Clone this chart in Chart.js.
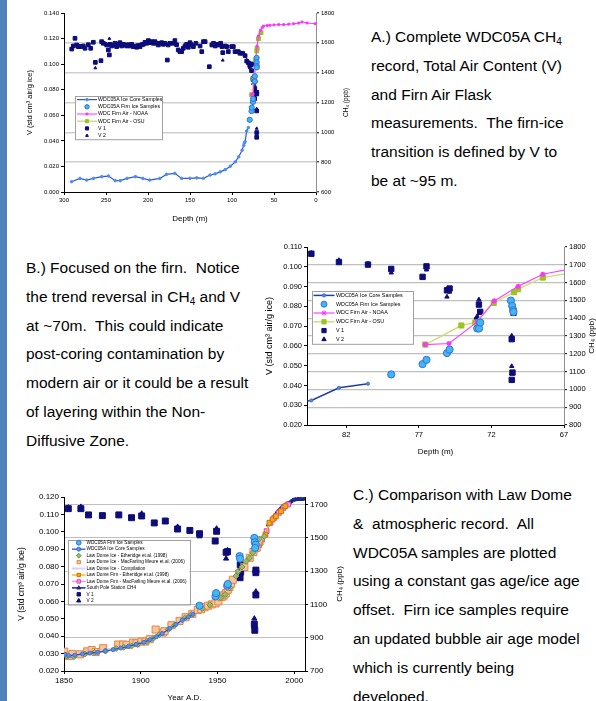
<!DOCTYPE html>
<html>
<head>
<meta charset="utf-8">
<script src="https://cdn.jsdelivr.net/npm/chart.js@4.4.0/dist/chart.umd.min.js"></script>
<style>
body { margin: 0; background: #fff; width: 596px; height: 701px; overflow: hidden; position: relative; font-family: Arial, "Liberation Sans", sans-serif; }
.bar { position: absolute; left: 0; top: 0; width: 7px; height: 701px; background: #4f81bd; }
.box { position: absolute; }
.txt { position: absolute; font-size: 15.5px; line-height: 28.8px; color: #000; white-space: nowrap; }
.txt sub { font-size: 10px; vertical-align: -3px; line-height: 0; }
</style>
</head>
<body>
<div class="bar"></div>
<div class="box" style="left:0;top:0;width:355px;height:232px"><canvas id="chartA"></canvas></div>
<div class="box" style="left:260px;top:240px;width:336px;height:230px"><canvas id="chartB"></canvas></div>
<div class="box" style="left:0;top:480px;width:345px;height:221px"><canvas id="chartC"></canvas></div>

<div class="txt" style="left:371px;top:23px">A.) Complete WDC05A CH<sub>4</sub><br>record, Total Air Content (V)<br>and Firn Air Flask<br>measurements.&nbsp; The firn-ice<br>transition is defined by V to<br>be at ~95 m.</div>
<div class="txt" style="left:26px;top:254px">B.) Focused on the firn.&nbsp; Notice<br>the trend reversal in CH<sub>4</sub> and V<br>at ~70m.&nbsp; This could indicate<br>post-coring contamination by<br>modern air or it could be a result<br>of layering within the Non-<br>Diffusive Zone.</div>
<div class="txt" style="left:353px;top:481px">C.) Comparison with Law Dome<br>&amp;&nbsp; atmospheric record.&nbsp; All<br>WDC05A samples are plotted<br>using a constant gas age/ice age<br>offset.&nbsp; Firn ice samples require<br>an updated bubble air age model<br>which is currently being<br>developed.</div>

<script>
// ---- depth based series (charts A and B), [depth m, value] ----
const iceCoreCH4 = [[291,669],[281,691],[273,680],[265,691],[255,703],[247,707],[239,676],[233,676],[225,691],[215,703],[206,691],[198,680],[186,691],[178,718],[168,725],[160,691],[150,692],[142,695],[134,692],[126,714],[120,722],[114,735],[108,750],[102,773],[96,802],[92,836],[88,880],[86,912],[85.3,928],[84.4,938],[82.5,1009],[80.5,1032]];
const firnIceCH4 = [[78.9,1084],[76.74,1142],[76.47,1166],[75.06,1204],[74.88,1224],[72.98,1342],[72.85,1342],[72.77,1376],[70.66,1499],[70.57,1469],[70.5,1445],[70.48,1435]];
const noaaCH4 = [[76.56,1252],[74.92,1258],[72.98,1379],[71.8,1497],[70.16,1579],[68.46,1647],[66,1685],[64,1702],[62.5,1712],[58,1716],[54.8,1718],[50,1720],[44.4,1722],[38.5,1722],[32.5,1725],[26.6,1728],[20.6,1732],[16.7,1740],[10.7,1733],[1,1728]];
const osuCH4 = [[76.55,1252],[74.07,1359],[73.11,1376],[71.84,1486],[70.43,1546],[70.16,1563],[68.46,1628],[65.5,1668]];
const v1Depth = [[290.8,0.1118],[288.9,0.1142],[286.9,0.1202],[284.9,0.1150],[282.9,0.1137],[280.1,0.1137],[277,0.1142],[275,0.1124],[271,0.1152],[268.2,0.1124],[265.1,0.1171],[262.7,0.1014],[256,0.1027],[255.2,0.1176],[253.2,0.1163],[249.2,0.1150],[247.2,0.1111],[246,0.1072],[245.2,0.1155],[243.3,0.1142],[241.3,0.1150],[239.3,0.1163],[237.3,0.1137],[235.4,0.1155],[233.4,0.1168],[231.4,0.1142],[229.4,0.1155],[227.4,0.1150],[225.4,0.1142],[223.4,0.1152],[221.4,0.1142],[219.5,0.1155],[217.5,0.1137],[215.5,0.1142],[213.5,0.1132],[211.5,0.1146],[209.5,0.1137],[207.5,0.1152],[205.6,0.1155],[203.6,0.1171],[201.6,0.1163],[199.6,0.1184],[197.6,0.1168],[195.6,0.1176],[193.7,0.1163],[191.7,0.1176],[189.7,0.1163],[187.7,0.1150],[185.7,0.1163],[183.7,0.1168],[181.7,0.1155],[179.8,0.1163],[177,0.1032],[176,0.1150],[174,0.1163],[170,0.1163],[168,0.1184],[166,0.1152],[164,0.1111],[162,0.1098],[160,0.1098],[158,0.1124],[156,0.1142],[154,0.1155],[152,0.1132],[150,0.1168],[148.5,0.1152],[146,0.1137],[143,0.1163],[138,0.1142],[136,0.1098],[134,0.1176],[132,0.1176],[127,0.0980],[124,0.1150],[122,0.1163],[120,0.1142],[118,0.1155],[116,0.1150],[113.5,0.1163],[112,0.1137],[111,0.1090],[108.3,0.1142],[106.4,0.1137],[104.4,0.1098],[100.4,0.1137],[98.4,0.1137],[96.4,0.1098],[92.5,0.1098],[90.5,0.1085],[87.3,0.1085],[84.4,0.1066],[82.5,0.1024],[80.5,0.1011],[78.9,0.0989],[76.74,0.0949],[76.47,0.1002],[75.06,0.0881],[74.88,0.0890],[72.98,0.0730],[72.86,0.0809],[72.77,0.0772],[70.6,0.0634],[70.55,0.0465],[70.6,0.0428],[70.5,0.0780],[70.48,0.0767]];
const v2Depth = [[290.8,0.1125],[280,0.1140],[262.7,0.0970],[250,0.1160],[246,0.1200],[220,0.1148],[200,0.1170],[180,0.1158],[150,0.1160],[120,0.1148],[111,0.1030],[100,0.1135],[84.4,0.1070],[82.5,0.1033],[80.5,0.1015],[78.9,0.0970],[76.47,0.0985],[75.06,0.0848],[74.88,0.0873],[72.86,0.0834],[72.98,0.0750],[70.6,0.0651],[70.6,0.0497],[70.6,0.0460]];

// ---- year based series (chart C), [year A.D., value] ----
const yrFirnCH4 = [[1938.3,1092],[1948.7,1148],[1949.1,1168],[1956.3,1212],[1956.7,1222],[1964.4,1390],[1964.7,1375],[1974,1499],[1974.3,1473],[1975,1459],[1974.5,1439]];
const yrCoreCH4 = [[1850.5,800],[1853,792],[1857,795],[1862,802],[1867,808],[1872,812],[1877,820],[1882,828],[1887,838],[1892,848],[1897,860],[1902,872],[1906,888],[1910,905],[1914,925],[1919,955],[1923,980],[1927,1005],[1931,1025],[1934,1040]];
const ldIceEtheridge = [[1852,788],[1856.5,786],[1863.6,802],[1870,812],[1877,820],[1884,835],[1889,843],[1894,850],[1898,860],[1904,878],[1908,895],[1912,918],[1918,950],[1922,975],[1928.6,1017],[1933,1040],[1940,1075],[1945,1098],[1952,1140],[1955,1160],[1958,1200],[1962,1270],[1963.2,1298],[1966,1325],[1968.6,1358],[1970.8,1379],[1973,1410],[1975,1440],[1977.3,1493],[1980.5,1509]];
const ldIceMacFarling = [[1850.2,816],[1853.2,790],[1855.6,802],[1860.4,800],[1865.1,818],[1868,826],[1870.6,814],[1875.5,837],[1885.3,859],[1888.5,859],[1890.7,857],[1895,871],[1897.2,867],[1900.4,877],[1903,877],[1905.8,891],[1909.7,949],[1914.5,931],[1915.5,939],[1920,975],[1925.3,1001],[1929.2,1023],[1933.6,1043],[1937.2,1067],[1939.4,1071],[1941.6,1084],[1943.8,1092],[1946.3,1100],[1948.7,1106],[1950.6,1118],[1952.4,1144],[1953.5,1148],[1954.5,1158],[1955.6,1168],[1956.7,1188],[1957.8,1204],[1958.8,1224],[1960,1248],[1967.5,1325],[1971,1380],[1973.4,1415],[1975.5,1440]];
const ldIceCompilation = [[1850,800],[1870,815],[1890,850],[1910,910],[1930,1030],[1950,1120],[1960,1240],[1970,1370],[1980,1505]];
const ldFirnEtheridge = [[1978,1470],[1981.2,1519],[1983.8,1590],[1985.9,1610],[1988.1,1630],[1991.4,1660],[1994.2,1690]];
const ldFirnMacFarling = [[1975,1430],[1977,1455],[1979,1490],[1982,1540],[1984.5,1590],[1987,1620],[1990,1650],[1993,1680],[1996,1700]];
const spoCH4 = [[1983,1578],[1984,1592],[1985,1606],[1986,1620],[1987,1632],[1988,1644],[1989,1656],[1990,1666],[1991,1676],[1992,1686],[1993,1690],[1994,1697],[1995,1703],[1996,1707],[1997,1711],[1998,1719],[1999,1726],[2000,1728],[2001,1730],[2002,1731],[2003,1733],[2004,1732],[2005,1731],[2006,1733],[2007,1736]];
const yrV1 = [[1852.8,0.1133],[1861,0.1133],[1866,0.1097],[1875,0.1093],[1885.7,0.1097],[1894,0.1081],[1900.6,0.1091],[1908.8,0.1051],[1916,0.1062],[1924,0.1016],[1932,0.1008],[1938.3,0.0989],[1948.5,0.0947],[1949.4,0.1003],[1955.6,0.0882],[1956.5,0.0886],[1964.3,0.0759],[1964.7,0.0736],[1964.8,0.0811],[1965.1,0.0769],[1974,0.0468],[1974.3,0.0434],[1975,0.0780],[1975,0.0637],[1975,0.0765]];
const yrV2 = [[1852.8,0.1139],[1861,0.1143],[1900.6,0.1104],[1924,0.1028],[1938.3,0.0974],[1949.4,0.1018],[1955.6,0.0846],[1956.5,0.0894],[1964.7,0.0826],[1974,0.0501],[1975,0.0656],[1974,0.0453]];

// ---- tick labels ----
const ticksBx = [67, 72, 77, 82];
const ticksCx = [1850, 1900, 1950, 2000];
const ticksCy2 = [700, 900, 1100, 1300, 1500, 1700];

Chart.defaults.font.family = 'Arial, "Liberation Sans", sans-serif';
Chart.defaults.color = '#000';

// legend box drawn inside the plot, like the spreadsheet one,
// plus the right axis title which reads bottom-to-top in the original
const boxLegend = {
    id: 'boxLegend',
    afterDraw(chart, args, o) {
        const ctx = chart.ctx;
        const sets = chart.data.datasets;
        const h = o.row * sets.length;
        ctx.save();
        ctx.fillStyle = '#fff';
        ctx.fillRect(o.x, o.y, o.w, h);
        ctx.strokeStyle = '#a0a0a0';
        ctx.lineWidth = 1;
        ctx.strokeRect(Math.round(o.x) + 0.5, Math.round(o.y) + 0.5, o.w, h);
        ctx.font = o.size + 'px Arial, "Liberation Sans", sans-serif';
        ctx.textBaseline = 'middle';
        sets.forEach((ds, i) => {
            const cy = o.y + o.row * (i + 0.5);
            const x0 = o.x + o.lx, x1 = x0 + o.line;
            if (ds.showLine) {
                ctx.strokeStyle = ds.borderColor;
                ctx.lineWidth = ds.borderWidth;
                ctx.beginPath();
                ctx.moveTo(x0, cy);
                ctx.lineTo(x1, cy);
                ctx.stroke();
            }
            if (ds.pointRadius > 0) {
                ctx.fillStyle = ds.pointBackgroundColor;
                ctx.strokeStyle = ds.pointBorderColor;
                ctx.lineWidth = 1;
                Chart.helpers.drawPoint(ctx, {
                    pointStyle: ds.pointStyle, rotation: 0,
                    radius: Math.min(ds.pointRadius, o.maxR), borderWidth: 1
                }, (x0 + x1) / 2, cy);
            }
            ctx.fillStyle = '#000';
            ctx.fillText(ds.label, o.x + o.tx, cy);
        });
        // right axis title
        const area = chart.chartArea;
        ctx.translate(o.rtX, (area.top + area.bottom) / 2);
        ctx.rotate(-Math.PI / 2);
        ctx.textAlign = 'center';
        ctx.font = o.rtSize + 'px Arial, "Liberation Sans", sans-serif';
        ctx.fillText('CH₄ (ppb)', 0, 0);
        ctx.restore();
    }
};

function ser(label, data, o) {
    return Object.assign({
        label: label,
        data: data.map(p => ({ x: p[0], y: p[1] })),
        showLine: false, yAxisID: 'y2', borderWidth: 1,
        pointRadius: 2, pointBorderWidth: 1, pointHoverRadius: 0
    }, o);
}

function axis(o) {
    return {
        type: 'linear', position: o.pos, min: o.min, max: o.max, reverse: !!o.reverse,
        afterFit: s => { if (o.pos === 'bottom') s.height = o.size; else s.width = o.size; },
        afterBuildTicks: o.ticks ? s => { s.ticks = o.ticks.map(v => ({ value: v })); } : undefined,
        ticks: { stepSize: o.step, font: { size: o.font }, padding: 2, color: '#000',
                 autoSkip: false, maxRotation: 0, callback: o.fmt || (v => v) },
        grid: {
            drawOnChartArea: !!o.grid,
            color: c => (c.tick && (c.tick.value <= o.min || c.tick.value >= o.max)) ? 'rgba(0,0,0,0)' : (o.gridColor || '#c0c0c0'),
            lineWidth: o.gridWidth || 1, tickLength: 3, tickColor: '#000', tickWidth: 1
        },
        border: { display: true, color: o.borderColor || '#000', width: 1 },
        title: { display: !!o.title, text: o.title, font: { size: o.titleFont }, color: '#000', padding: o.titlePad }
    };
}

function makeChart(id, datasets, scales, legend, padTop) {
    new Chart(document.getElementById(id), {
        type: 'scatter',
        data: { datasets: datasets },
        options: {
            responsive: true, maintainAspectRatio: false, animation: false,
            layout: { padding: { top: padTop, left: 0, right: 0, bottom: 0 } },
            scales: scales,
            plugins: { legend: { display: false }, tooltip: { enabled: false }, boxLegend: legend }
        },
        plugins: [boxLegend]
    });
}

const vFmt = v => v.toFixed(3);
const navy = '#0c0c7a';

// ---- A: complete record ----
makeChart('chartA', [
    ser('WDC05A Ice Core Samples', iceCoreCH4, { showLine: true, borderColor: '#2f55d4', borderWidth: 1.2, pointRadius: 1.3, pointBackgroundColor: '#4d8df0', pointBorderColor: '#4d8df0' }),
    ser('WDC05A Firn Ice Samples', firnIceCH4, { pointRadius: 2.6, pointBackgroundColor: '#3fb6ee', pointBorderColor: '#3a6fe0' }),
    ser('WDC Firn Air - NOAA', noaaCH4, { showLine: true, borderColor: '#ff33ff', pointStyle: 'rect', pointRadius: 1.3, pointBackgroundColor: '#ff33ff', pointBorderColor: '#ff33ff' }),
    ser('WDC Firn Air - OSU', osuCH4, { showLine: true, borderColor: '#d0df8a', borderWidth: 1.5, pointStyle: 'rect', pointRadius: 2.8, pointBackgroundColor: '#99c21f', pointBorderColor: '#99c21f' }),
    ser('V 1', v1Depth, { yAxisID: 'y', pointStyle: 'rect', pointRadius: 2.6, pointBackgroundColor: navy, pointBorderColor: navy }),
    ser('V 2', v2Depth, { yAxisID: 'y', pointStyle: 'triangle', pointRadius: 1.6, pointBackgroundColor: navy, pointBorderColor: navy })
], {
    x: axis({ pos: 'bottom', min: 0, max: 300, step: 50, reverse: true, size: 40, font: 6, title: 'Depth (m)', titleFont: 8, titlePad: { top: 0, bottom: 8 } }),
    y: axis({ pos: 'left', min: 0, max: 0.14, step: 0.02, size: 64, font: 6, fmt: vFmt, title: 'V (std cm³ air/g ice)', titleFont: 7.5, titlePad: { top: 25.5, bottom: 0 } }),
    y2: axis({ pos: 'right', min: 600, max: 1800, step: 200, size: 39, font: 6, grid: true, gridWidth: 1.6, gridColor: '#cfcfcf', borderColor: '#909090' })
}, { x: 75, y: 96, w: 87, row: 7.2, size: 5.2, lx: 2, line: 20, tx: 23, maxR: 2.2, rtX: 346, rtSize: 6.5 }, 13);

// ---- B: firn detail ----
makeChart('chartB', [
    ser('WDC05A Ice Core Samples', iceCoreCH4, { showLine: true, borderColor: '#283c9c', borderWidth: 1.5, pointRadius: 1.6, pointBackgroundColor: '#4d8df0', pointBorderColor: '#3d6fd8' }),
    ser('WDC05A Firn Ice Samples', firnIceCH4, { pointRadius: 3.6, pointBackgroundColor: '#3fb6ee', pointBorderColor: '#3a6fe0' }),
    ser('WDC Firn Air - NOAA', noaaCH4, { showLine: true, borderColor: '#ff44ff', borderWidth: 1.2, pointStyle: 'star', pointRadius: 2.6, pointBorderWidth: 1.4, pointBackgroundColor: '#ff33ff', pointBorderColor: '#ff33ff' }),
    ser('WDC Firn Air - OSU', osuCH4, { showLine: true, borderColor: '#cfe07a', borderWidth: 1.5, pointStyle: 'rect', pointRadius: 3.6, pointBackgroundColor: '#9bc41c', pointBorderColor: '#9bc41c' }),
    ser('V 1', v1Depth, { yAxisID: 'y', pointStyle: 'rect', pointRadius: 3.8, pointBackgroundColor: navy, pointBorderColor: navy }),
    ser('V 2', v2Depth, { yAxisID: 'y', pointStyle: 'triangle', pointRadius: 2.5, pointBackgroundColor: navy, pointBorderColor: navy })
], {
    x: axis({ pos: 'bottom', min: 67, max: 84.7, reverse: true, ticks: ticksBx, size: 45, font: 7.5, title: 'Depth (m)', titleFont: 8, titlePad: { top: 0, bottom: 13 } }),
    y: axis({ pos: 'left', min: 0.02, max: 0.11, step: 0.01, size: 47, font: 7.5, fmt: vFmt, title: 'V (std cm³ air/g ice)', titleFont: 9, titlePad: { top: 4.5, bottom: 0 } }),
    y2: axis({ pos: 'right', min: 800, max: 1800, step: 100, size: 32, font: 7.5, grid: true, gridWidth: 1.3, borderColor: '#909090' })
}, { x: 52, y: 51, w: 101, row: 8.8, size: 5.4, lx: 1.5, line: 21, tx: 24, maxR: 3, rtX: 332, rtSize: 8 }, 7);

// ---- C: comparison with Law Dome ----
makeChart('chartC', [
    ser('WDC05A Firn Ice Samples', yrFirnCH4, { pointRadius: 3.6, pointBackgroundColor: '#3fbbee', pointBorderColor: '#3a6fe0' }),
    ser('WDC05A Ice Core Samples', yrCoreCH4, { showLine: true, borderColor: '#2f4fc8', borderWidth: 1.3, pointRadius: 2, pointBackgroundColor: '#5c92e6', pointBorderColor: '#3d6fd8' }),
    ser('Law Dome Ice - Etheridge et.al. (1998)', ldIceEtheridge, { pointStyle: 'rectRot', pointRadius: 3, pointBackgroundColor: '#9cb86a', pointBorderColor: '#75913f' }),
    ser('Law Dome Ice - MacFarling Meure et.al. (2006)', ldIceMacFarling, { pointStyle: 'rect', pointRadius: 5, pointBackgroundColor: '#f8c49a', pointBorderColor: '#e08848' }),
    ser('Law Dome Ice - Compilation', ldIceCompilation, { showLine: true, borderColor: '#ebc9f4', borderWidth: 2, pointRadius: 0 }),
    ser('Law Dome Firn - Etheridge et.al. (1998)', ldFirnEtheridge, { showLine: true, borderColor: '#f5b400', borderWidth: 1.3, pointStyle: 'rect', pointRadius: 3.4, pointBackgroundColor: '#f7a520', pointBorderColor: '#c87800' }),
    ser('Law Dome Firn - MacFarling Meure et.al. (2006)', ldFirnMacFarling, { showLine: true, borderColor: '#ff8fcf', borderWidth: 1.3, pointStyle: 'rect', pointRadius: 3.4, pointBackgroundColor: '#ff99e6', pointBorderColor: '#e040c0' }),
    ser('South Pole Station CH4', spoCH4, { showLine: true, borderColor: '#1c2a8c', borderWidth: 1.5, pointStyle: 'triangle', pointRadius: 2.2, pointBackgroundColor: '#1c2a8c', pointBorderColor: '#1c2a8c' }),
    ser('V 1', yrV1, { yAxisID: 'y', pointStyle: 'rect', pointRadius: 4.2, pointBackgroundColor: navy, pointBorderColor: navy }),
    ser('V 2', yrV2, { yAxisID: 'y', pointStyle: 'triangle', pointRadius: 3, pointBackgroundColor: navy, pointBorderColor: navy })
], {
    x: axis({ pos: 'bottom', min: 1850, max: 2007, ticks: ticksCx, size: 30, font: 8, title: 'Year A.D.', titleFont: 8, titlePad: { top: 0, bottom: -2 } }),
    y: axis({ pos: 'left', min: 0.02, max: 0.12, step: 0.01, size: 64, font: 8, fmt: vFmt, title: 'V (std cm³ air/g ice)', titleFont: 8.5, titlePad: { top: 17, bottom: 0 } }),
    y2: axis({ pos: 'right', min: 700, max: 1745, ticks: ticksCy2, size: 40, font: 8, grid: true })
}, { x: 67.5, y: 59.5, w: 122, row: 6.45, size: 4.7, lx: 4.5, line: 13.5, tx: 19, maxR: 2.4, rtX: 340, rtSize: 8 }, 17);
</script>
</body>
</html>
